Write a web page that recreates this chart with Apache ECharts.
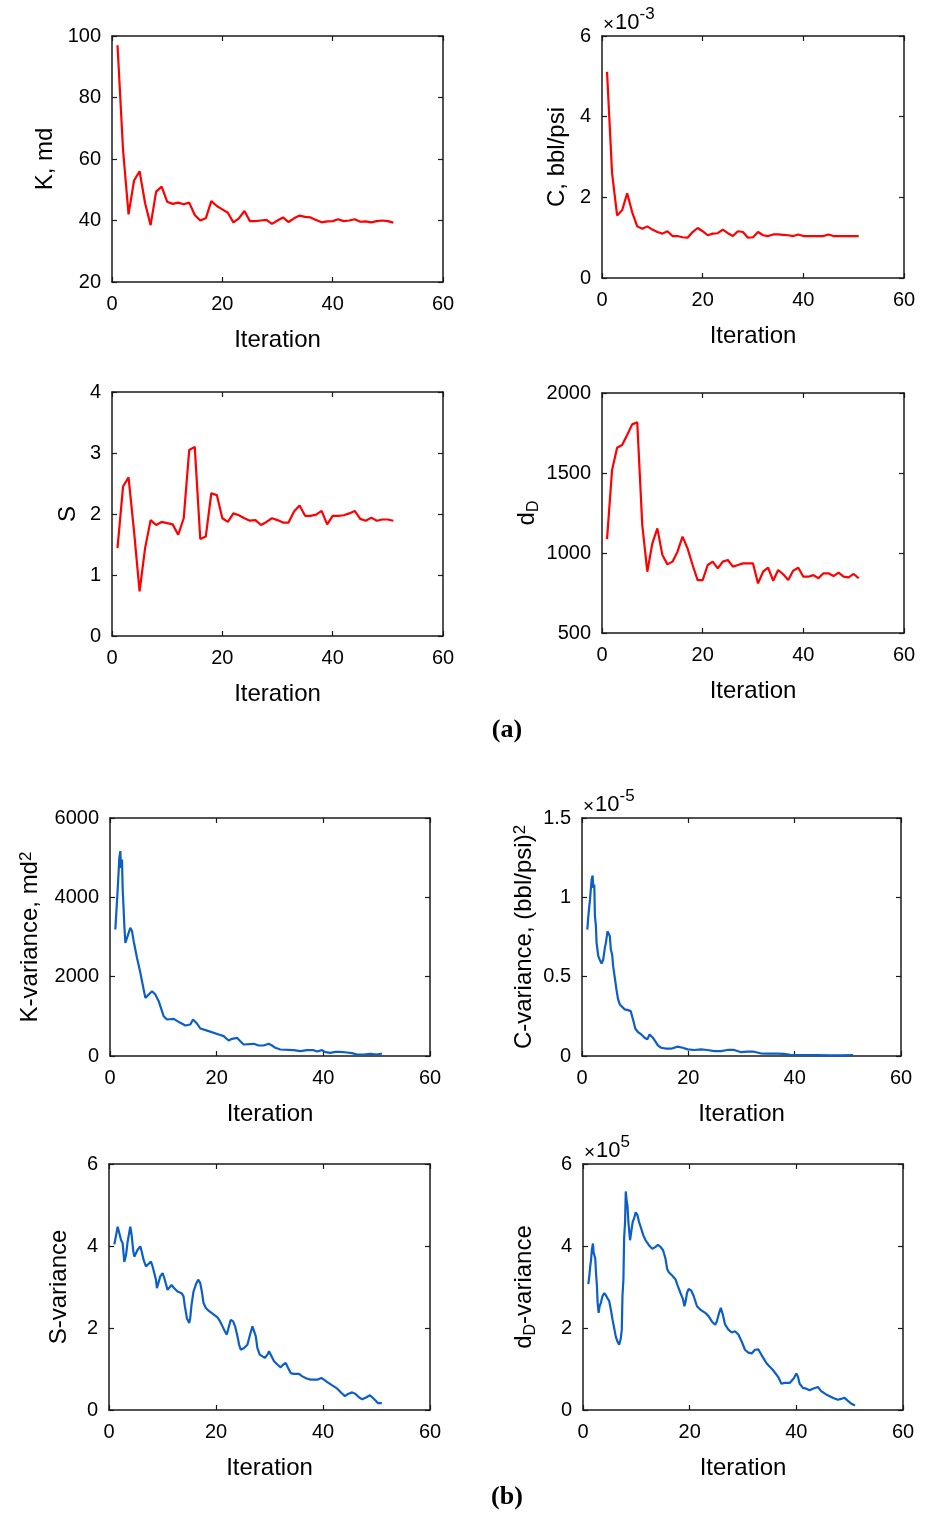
<!DOCTYPE html>
<html><head><meta charset="utf-8">
<script src="https://cdn.jsdelivr.net/npm/echarts@6/dist/echarts.min.js"></script>
<style>html,body{margin:0;padding:0;background:#fff}#c{width:933px;height:1516px}</style>
</head><body><div id="c"></div>
<script>
// ---------- data ----------
const xTicks = [0, 20, 40, 60];
const iterA = [1,2,3,4,5,6,7,8,9,10,11,12,13,14,15,16,17,18,19,20,21,22,23,24,25,26,27,28,29,30,31,32,33,34,35,36,37,38,39,40,41,42,43,44,45,46,47,48,49,50,51];

const kTicks = [20, 40, 60, 80, 100];
const kValues = [97,63,42,53,56,45.6,38.5,49.4,51,46.1,45.4,45.8,45.3,45.8,41.8,40,40.7,46.3,44.7,43.6,42.5,39.4,40.7,43.1,39.8,39.8,40,40.2,38.9,40,41,39.5,40.7,41.6,41.2,41,40.2,39.4,39.7,39.8,40.4,39.8,40,40.4,39.6,39.7,39.4,39.8,40,39.8,39.3];

const cTicks = [0, 2, 4, 6]; // x 10^-3
const cValuesE3 = [5.11,2.6,1.55,1.68,2.1,1.63,1.28,1.22,1.28,1.2,1.14,1.1,1.16,1.04,1.04,1.01,1.0,1.14,1.24,1.16,1.06,1.1,1.11,1.2,1.11,1.04,1.16,1.14,1.0,1.01,1.14,1.06,1.04,1.08,1.08,1.07,1.06,1.04,1.08,1.04,1.04,1.04,1.04,1.04,1.08,1.04,1.04,1.04,1.04,1.04,1.04];

const sTicks = [0, 1, 2, 3, 4];
const sValues = [1.44,2.45,2.6,1.71,0.73,1.44,1.9,1.82,1.87,1.85,1.83,1.66,1.93,3.05,3.1,1.59,1.63,2.34,2.31,1.93,1.87,2.01,1.98,1.93,1.89,1.9,1.82,1.87,1.93,1.9,1.86,1.86,2.04,2.14,1.97,1.97,1.99,2.05,1.83,1.97,1.97,1.98,2.01,2.05,1.92,1.89,1.94,1.89,1.91,1.91,1.89];

const dDTicks = [500, 1000, 1500, 2000];
const dDValues = [1087,1519,1658,1675,1737,1804,1817,1175,883,1060,1154,987,929,946,1008,1102,1029,925,831,831,925,946,904,946,956,915,925,935,935,935,810,883,908,827,894,867,831,890,908,852,852,862,842,873,873,856,877,852,848,869,842];

const kVarTicks = [0, 2000, 4000, 6000];
const kVarIter = [1.0,1.44,1.75,1.94,2.06,2.25,2.38,2.56,2.69,2.88,3.19,3.81,4.13,4.44,5.06,5.69,6.31,6.63,6.94,7.88,8.5,9.13,9.75,10.06,10.69,11.94,13.19,14.13,15.06,15.56,15.88,16.31,16.94,18.5,20.38,21.31,22.25,22.88,23.81,24.44,25.06,26.94,27.88,28.81,29.75,30.38,31.0,31.94,34.44,35.69,36.94,38.19,38.81,39.75,40.38,41.31,42.25,43.19,44.44,45.38,46.31,47.56,48.81,50.06,51.0];
const kVarValues = [3189,4197,4996,5164,4744,4954,4197,3693,3273,2853,2979,3231,3147,2895,2475,2097,1676,1466,1424,1634,1550,1382,1130,1004,920,937,836,769,794,920,937,819,693,626,542,500,391,433,458,374,290,307,265,265,307,265,206,164,147,122,147,147,113,147,97,80,105,105,88,71,38,38,55,38,63];

const cVarTicks = [0, 0.5, 1, 1.5]; // x 10^-5
const cVarIter = [1.0,1.19,1.37,1.5,1.69,1.81,2.0,2.12,2.31,2.43,2.62,2.74,3.06,3.37,3.68,3.99,4.3,4.49,4.8,5.05,5.24,5.42,5.67,5.86,6.17,6.48,6.79,7.11,7.42,8.04,8.66,9.16,9.41,9.72,10.03,10.53,11.15,11.78,12.28,12.71,13.02,13.34,13.77,14.27,14.89,15.83,16.76,18.01,18.94,19.88,21.12,22.37,23.61,24.86,26.11,27.35,28.6,29.84,31.09,32.34,33.58,34.83,36.7,37.94,39.19,41.68,44.17,46.66,48.53,51.0];
const cVarValuesE5 = [0.797,0.881,0.891,0.986,0.996,1.112,1.137,1.059,1.080,0.881,0.818,0.713,0.629,0.604,0.583,0.608,0.682,0.713,0.786,0.797,0.755,0.671,0.640,0.566,0.493,0.419,0.357,0.325,0.319,0.294,0.289,0.283,0.252,0.214,0.172,0.151,0.136,0.115,0.105,0.136,0.141,0.115,0.094,0.067,0.052,0.046,0.046,0.059,0.052,0.042,0.038,0.042,0.038,0.031,0.031,0.038,0.038,0.025,0.027,0.027,0.017,0.015,0.015,0.013,0.008,0.006,0.006,0.004,0.004,0.006];

const sVarTicks = [0, 2, 4, 6];
const sVarIter = [1.0,1.62,1.93,2.24,2.55,2.86,3.18,3.49,3.98,4.23,4.54,4.73,5.35,5.85,6.1,6.47,6.91,7.22,7.84,8.15,8.46,8.77,8.96,9.21,9.58,10.02,10.33,10.95,11.69,12.19,12.81,13.56,13.93,14.18,14.56,14.99,15.18,15.43,15.8,16.23,16.67,17.04,17.35,17.67,18.1,18.72,19.66,20.28,20.77,21.21,21.65,22.02,22.33,22.76,23.2,23.57,24.01,24.32,24.63,25.25,25.87,26.37,26.81,27.12,27.43,27.74,28.18,29.11,29.61,29.92,30.23,30.85,31.47,32.09,32.59,33.03,33.46,33.96,34.58,35.51,36.14,36.94,37.69,38.93,39.68,40.18,40.8,41.73,42.67,43.41,44.1,44.65,45.46,46.09,46.71,47.33,48.14,48.76,49.19,49.82,50.25,51.0];
const sVarValues = [4.04,4.47,4.50,4.15,4.07,3.61,3.78,4.11,4.47,4.27,3.87,3.74,3.91,3.99,3.87,3.66,3.50,3.46,3.62,3.50,3.34,3.18,2.97,3.01,3.26,3.34,3.22,2.93,3.05,2.97,2.89,2.85,2.77,2.53,2.24,2.12,2.24,2.57,2.89,3.06,3.18,3.10,2.89,2.61,2.49,2.41,2.32,2.26,2.16,2.04,1.92,1.84,2.0,2.20,2.16,2.04,1.80,1.59,1.47,1.51,1.59,1.84,2.04,2.08,1.80,1.51,1.35,1.27,1.35,1.43,1.35,1.19,1.11,1.04,1.11,1.15,1.03,0.90,0.88,0.88,0.82,0.77,0.74,0.74,0.78,0.74,0.68,0.60,0.52,0.42,0.34,0.39,0.43,0.39,0.31,0.26,0.31,0.36,0.31,0.23,0.17,0.17];

const dDVarTicks = [0, 2, 4, 6]; // x 10^5
const dDVarIter = [1.0,1.19,1.37,1.5,1.68,1.87,1.99,2.12,2.3,2.43,2.61,2.74,2.93,3.11,3.36,3.67,3.98,4.29,4.6,4.91,5.22,5.53,5.84,6.15,6.46,6.78,6.96,7.09,7.27,7.4,7.58,7.71,7.89,8.02,8.2,8.33,8.51,8.82,8.95,9.14,9.32,9.57,9.88,10.19,10.5,10.81,11.31,11.74,12.36,12.99,13.61,14.04,14.54,15.03,15.47,15.78,16.09,16.71,17.33,17.77,18.26,18.76,19.01,19.2,19.51,19.82,20.31,20.75,21.37,21.99,22.92,23.54,24.16,24.78,25.09,25.53,25.84,26.21,26.65,27.27,27.89,28.51,29.13,29.75,30.37,30.99,31.62,32.24,32.86,33.48,34.41,35.65,36.58,37.21,37.83,38.76,39.5,40.0,40.31,40.62,41.24,41.86,42.48,43.1,44.04,44.66,45.59,46.83,47.76,48.38,49.0,49.62,50.25,51.0];
const dDVarValuesE5 = [3.07,3.28,3.52,3.65,3.93,4.06,3.85,3.89,3.69,3.36,3.03,2.62,2.37,2.53,2.62,2.78,2.85,2.80,2.72,2.66,2.45,2.21,2.0,1.79,1.67,1.59,1.55,1.75,1.96,2.78,3.19,4.18,4.59,5.33,5.09,5.0,4.59,4.14,4.18,4.43,4.59,4.67,4.82,4.76,4.59,4.47,4.26,4.14,4.02,3.93,3.98,4.03,3.98,3.89,3.69,3.44,3.36,3.28,3.19,3.03,2.86,2.70,2.53,2.62,2.86,2.95,2.91,2.78,2.53,2.45,2.37,2.29,2.16,2.08,2.16,2.37,2.49,2.33,2.08,1.96,1.89,1.92,1.84,1.67,1.47,1.40,1.38,1.47,1.48,1.34,1.14,0.97,0.81,0.64,0.66,0.66,0.77,0.89,0.81,0.64,0.54,0.52,0.48,0.52,0.56,0.46,0.38,0.30,0.25,0.27,0.30,0.23,0.16,0.11];

// ---------- layout ----------
const FONT = "'Liberation Sans', Arial, Helvetica, sans-serif";
const RED = '#ff0000', BLUE = '#0b5fc5';
const panels = [
  {box:[112,36,331,246],  x:iterA,     y:kValues,       yTicks:kTicks,     name:'K, md',                         gap:55, color:RED},
  {box:[602,36,302,242],  x:iterA,     y:cValuesE3,     yTicks:cTicks,     name:'C, bbl/psi',                    gap:33, color:RED,  mult:'{x|×}{n|10}{s|-3}'},
  {box:[112,392,331,244], x:iterA,     y:sValues,       yTicks:sTicks,     name:'S',                             gap:32, color:RED},
  {box:[602,393,302,240], x:iterA,     y:dDValues,      yTicks:dDTicks,    name:'d{sub|D}',                      gap:60, color:RED},
  {box:[110,818,320,238], x:kVarIter,  y:kVarValues,    yTicks:kVarTicks,  name:'K-variance, md{sup|2}',         gap:68, color:BLUE},
  {box:[582,818,319,238], x:cVarIter,  y:cVarValuesE5,  yTicks:cVarTicks,  name:'C-variance, (bbl/psi){sup|2}',  gap:46, color:BLUE, mult:'{x|×}{n|10}{s|-5}'},
  {box:[109,1164,321,246],x:sVarIter,  y:sVarValues,    yTicks:sVarTicks,  name:'S-variance',                    gap:38, color:BLUE},
  {box:[583,1164,320,246],x:dDVarIter, y:dDVarValuesE5, yTicks:dDVarTicks, name:'d{sub|D}-variance',             gap:44, color:BLUE, mult:'{x|×}{n|10}{s|5}'}
];

const chart = echarts.init(document.getElementById('c'), null, {renderer:'canvas'});
const option = {animation:false, backgroundColor:'#fff', grid:[], xAxis:[], yAxis:[], series:[], graphic:[]};
const axisLine = {show:true, onZero:false, lineStyle:{color:'#1a1a1a', width:1.5}};
const tick = {show:true, inside:true, length:5, lineStyle:{color:'#1a1a1a', width:1.2}};
const plain = v => String(v);
const richName = {
  sup:{fontSize:17, fontFamily:FONT, color:'#000', verticalAlign:'top'},
  sub:{fontSize:16, fontFamily:FONT, color:'#000', verticalAlign:'bottom', padding:[14,0,0,0]}
};
panels.forEach((p,i) => {
  const [l,t,w,h] = p.box;
  option.grid.push({left:l, top:t, width:w, height:h});
  const xr = {min:xTicks[0], max:xTicks[xTicks.length-1], interval:xTicks[1]-xTicks[0]};
  const yr = {min:p.yTicks[0], max:p.yTicks[p.yTicks.length-1], interval:p.yTicks[1]-p.yTicks[0]};
  option.xAxis.push(Object.assign({type:'value', gridIndex:i, position:'bottom', axisLine, axisTick:tick, splitLine:{show:false},
    axisLabel:{color:'#000', fontSize:20, fontFamily:FONT, margin:12, formatter:plain},
    name:'Iteration', nameLocation:'middle', nameGap:46, nameTextStyle:{color:'#000', fontSize:24, fontFamily:FONT}}, xr));
  option.xAxis.push(Object.assign({type:'value', gridIndex:i, position:'top', axisLine, axisTick:tick, splitLine:{show:false}, axisLabel:{show:false}}, xr));
  option.yAxis.push(Object.assign({type:'value', gridIndex:i, position:'left', axisLine, axisTick:tick, splitLine:{show:false},
    axisLabel:{color:'#000', fontSize:20, fontFamily:FONT, margin:11, formatter:plain},
    name:p.name, nameLocation:'middle', nameGap:p.gap, nameTextStyle:{color:'#000', fontSize:24, fontFamily:FONT, rich:richName}}, yr));
  option.yAxis.push(Object.assign({type:'value', gridIndex:i, position:'right', axisLine, axisTick:tick, splitLine:{show:false}, axisLabel:{show:false}}, yr));
  option.series.push({type:'line', xAxisIndex:2*i, yAxisIndex:2*i, data:p.x.map((v,k)=>[v,p.y[k]]),
    showSymbol:false, symbol:'none', lineStyle:{color:p.color, width:2.2}, itemStyle:{color:p.color}, silent:true, z:3});
  if (p.mult) {
    option.graphic.push({type:'text', x:l+1, y:t-2, style:{text:p.mult, align:'left', verticalAlign:'bottom', fill:'#000',
      fontSize:20, fontFamily:FONT,
      rich:{
        x:{fontSize:19, fontFamily:FONT, fill:'#000', verticalAlign:'bottom', padding:[6,1,0,0]},
        n:{fontSize:22, fontFamily:FONT, fill:'#000', verticalAlign:'bottom', padding:[6,0,0,0]},
        s:{fontSize:17, fontFamily:FONT, fill:'#000', verticalAlign:'top'}
      }}});
  }
});
option.graphic.push({type:'text', x:507, y:730, style:{text:'(a)', align:'center', verticalAlign:'middle', fill:'#000', font:'bold 26px "Liberation Serif", "Times New Roman", serif'}});
option.graphic.push({type:'text', x:507, y:1497, style:{text:'(b)', align:'center', verticalAlign:'middle', fill:'#000', font:'bold 26px "Liberation Serif", "Times New Roman", serif'}});
chart.setOption(option);
</script></body></html>
